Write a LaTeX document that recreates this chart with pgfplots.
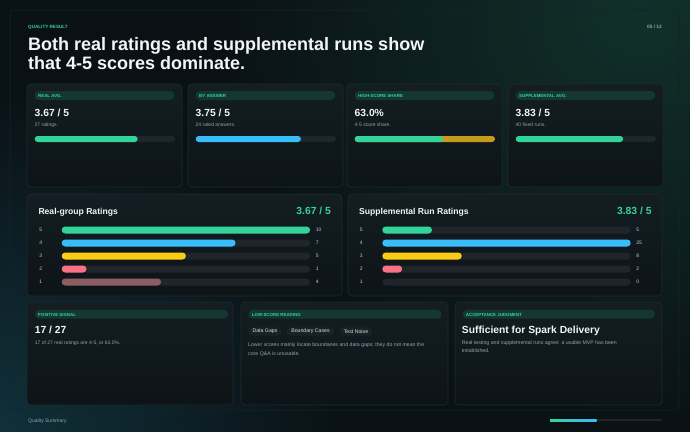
\documentclass[border=0pt]{standalone}
\usepackage{fontspec}
\setmainfont{Liberation Sans}
\usepackage{pgfplots}
\pgfplotsset{compat=1.18}
\definecolor{bg}{HTML}{0A1115}
\definecolor{glowtr}{HTML}{11302A}
\definecolor{glowbl}{HTML}{10303A}
\definecolor{frame}{HTML}{15242A}
\definecolor{cardtop}{HTML}{131D22}
\definecolor{cardbot}{HTML}{0D1418}
\definecolor{cardline}{HTML}{1F2A2E}
\definecolor{pill}{HTML}{143830}
\definecolor{cgreen}{HTML}{34D399}
\definecolor{cblue}{HTML}{38BDF8}
\definecolor{cyellow}{HTML}{FACC15}
\definecolor{cpink}{HTML}{F87185}
\definecolor{cmauve}{HTML}{8C5C63}
\definecolor{cgold}{HTML}{C59B1B}
\definecolor{track}{HTML}{1F252A}
\definecolor{txt}{HTML}{F3F5F6}
\definecolor{subgrey}{HTML}{97A2A8}
\definecolor{rowlbl}{HTML}{C5CCD0}
\definecolor{chip}{HTML}{1B2227}
\definecolor{chiptxt}{HTML}{D5DBDE}
\newcommand\fs[1]{\fontsize{#1}{#1}\selectfont}
\pgfplotsset{
 kpibar/.style={scale only axis, width=140.3pt, height=6pt, xmin=0, ymin=0.5, ymax=1.5, hide axis, clip=false, anchor=south west,
   every axis plot/.append style={xbar, bar width=6pt, bar shift=0pt, draw=none, rounded corners=3pt}},
 ratebar/.style={scale only axis, width=248.4pt, height=65pt, xmin=0, ymin=0.5, ymax=5.5,
   axis line style={draw=none}, major tick length=0pt, xtick=\empty, ytick={1,2,3,4,5}, yticklabels={1,2,3,4,5},
   yticklabel style={font=\fs{5}, text=rowlbl, anchor=center, xshift=-21pt},
   clip=false, anchor=south west,
   every axis plot/.append style={xbar, bar width=7pt, bar shift=0pt, draw=none, rounded corners=3.5pt},
   nodes near coords style={font=\fs{5}, text=rowlbl, anchor=west, inner sep=0pt, xshift=5.5pt}},
}
\newcommand\card[4]{\shade[rounded corners=4pt, top color=cardtop, bottom color=cardbot] (#1,#2) rectangle (#3,#4);
 \draw[rounded corners=4pt, cardline, line width=0.6pt] (#1,#2) rectangle (#3,#4);}
\newcommand\pilltext[5]{\fill[pill, rounded corners=4.5pt] (#1,#2) rectangle (#3,#2+9);
 \node[anchor=base west, inner sep=0pt, font=\fs{4.4}\bfseries, text=cgreen] at (#4,#2+6.3) {#5};}
\newcommand\kpi[4]{\card{#1}{84}{#1+155}{187}
 \pilltext{#1+7.5}{91}{#1+147.5}{#1+11}{#2}
 \node[anchor=base west, inner sep=0pt, font=\fs{10.3}\bfseries, text=txt] at (#1+7.5,116) {#3};
 \node[anchor=base west, inner sep=0pt, font=\fs{5}, text=subgrey] at (#1+7.5,126.5) {#4};}
\begin{document}
\begin{tikzpicture}[x=1pt,y=-1pt]
\useasboundingbox (0,0) rectangle (690,431);
\fill[bg] (-3,-3) rectangle (693,434);
\begin{scope}
\clip (-3,-3) rectangle (693,434);
\shade[inner color=glowtr, outer color=bg] (640,10) circle (420);
\shade[inner color=glowbl, outer color=bg] (0,431) circle (340);
\end{scope}
\draw[frame, line width=0.6pt, rounded corners=3pt] (10,10) rectangle (679,410);
% header
\node[anchor=base west, inner sep=0pt, font=\fs{4.6}\bfseries, text=cgreen] at (28,28) {QUALITY RESULT};
\node[anchor=base east, inner sep=0pt, font=\fs{4.8}\bfseries, text=subgrey] at (662,28) {05 / 12};
\node[anchor=base west, inner sep=0pt, font=\fs{18}\bfseries, text=txt] at (28,50) {Both real ratings and supplemental runs show};
\node[anchor=base west, inner sep=0pt, font=\fs{18}\bfseries, text=txt] at (28,69) {that 4-5 scores dominate.};
% KPI cards
\kpi{27}{REAL AVG.}{3.67 / 5}{27 ratings.}
\kpi{188}{BY ANSWER}{3.75 / 5}{24 rated answers.}
\kpi{347}{HIGH-SCORE SHARE}{63.0\%}{4-5 score share.}
\kpi{508}{SUPPLEMENTAL AVG.}{3.83 / 5}{40 fixed runs.}
\coordinate (k1) at (34.7,142);
\coordinate (k2) at (195.7,142);
\coordinate (k3) at (354.7,142);
\coordinate (k4) at (515.7,142);
\begin{axis}[kpibar, at={(k1)}, xmax=5]
\addplot[fill=track] coordinates {(5,1)};
\addplot[fill=cgreen] coordinates {(3.67,1)};
\end{axis}
\begin{axis}[kpibar, at={(k2)}, xmax=5]
\addplot[fill=track] coordinates {(5,1)};
\addplot[fill=cblue] coordinates {(3.75,1)};
\end{axis}
\begin{axis}[kpibar, at={(k3)}, xmax=100]
\addplot[fill=cgold] coordinates {(100,1)};
\addplot[fill=cgreen] coordinates {(63.0,1)};
\end{axis}
\begin{axis}[kpibar, at={(k4)}, xmax=5]
\addplot[fill=track] coordinates {(5,1)};
\addplot[fill=cgreen] coordinates {(3.83,1)};
\end{axis}
% rating panels
\card{27}{194}{342}{296}
\card{348}{194}{662}{296}
\node[anchor=base west, inner sep=0pt, font=\fs{8.6}\bfseries, text=txt] at (38.3,214) {Real-group Ratings};
\node[anchor=base east, inner sep=0pt, font=\fs{10.3}\bfseries, text=cgreen] at (331,214.5) {3.67 / 5};
\node[anchor=base west, inner sep=0pt, font=\fs{8.6}\bfseries, text=txt] at (359,214) {Supplemental Run Ratings};
\node[anchor=base east, inner sep=0pt, font=\fs{10.3}\bfseries, text=cgreen] at (651.7,214.5) {3.83 / 5};
\coordinate (p1) at (61.7,288.5);
\coordinate (p2) at (382.3,288.5);
\begin{axis}[ratebar, at={(p1)}, xmax=10]
\addplot[fill=track, nodes near coords, point meta=explicit symbolic] coordinates {(10,5) [10] (10,4) [7] (10,3) [5] (10,2) [1] (10,1) [4]};
\addplot[fill=cgreen] coordinates {(10,5)};
\addplot[fill=cblue] coordinates {(7,4)};
\addplot[fill=cyellow] coordinates {(5,3)};
\addplot[fill=cpink] coordinates {(1,2)};
\addplot[fill=cmauve] coordinates {(4,1)};
\end{axis}
\begin{axis}[ratebar, at={(p2)}, xmax=25]
\addplot[fill=track, nodes near coords, point meta=explicit symbolic] coordinates {(25,5) [5] (25,4) [25] (25,3) [8] (25,2) [2] (25,1) [0]};
\addplot[fill=cgreen] coordinates {(5,5)};
\addplot[fill=cblue] coordinates {(25,4)};
\addplot[fill=cyellow] coordinates {(8,3)};
\addplot[fill=cpink] coordinates {(2,2)};
\end{axis}
% bottom cards
\card{27}{302}{233}{405}
\card{241}{302}{448}{405}
\card{455}{302}{662}{405}
\pilltext{35}{309.7}{228.3}{37.7}{POSITIVE SIGNAL}
\pilltext{248.3}{309.7}{441.7}{251.7}{LOW-SCORE READING}
\pilltext{462.7}{309.7}{655}{465.7}{ACCEPTANCE JUDGMENT}
\node[anchor=base west, inner sep=0pt, font=\fs{10.3}\bfseries, text=txt] at (34.7,333) {17 / 27};
\node[anchor=base west, inner sep=0pt, font=\fs{5}, text=subgrey] at (34.7,344) {17 of 27 real ratings are 4-5, or 63.0\%.};
\fill[chip, rounded corners=3pt] (249,327.3) rectangle (281,335.5);
\fill[chip, rounded corners=3pt] (287,327.3) rectangle (334,335.5);
\fill[chip, rounded corners=3pt] (340,327.3) rectangle (372,335.5);
\node[inner sep=0pt, font=\fs{5.2}, text=chiptxt] at (265,331.4) {Data Gaps};
\node[inner sep=0pt, font=\fs{5.2}, text=chiptxt] at (310.5,331.4) {Boundary Cases};
\node[inner sep=0pt, font=\fs{5.2}, text=chiptxt] at (356,331.4) {Test Noise};
\node[anchor=base west, inner sep=0pt, font=\fs{5.2}, text=subgrey] at (248,346.7) {Lower scores mainly locate boundaries and data gaps; they do not mean the};
\node[anchor=base west, inner sep=0pt, font=\fs{5.2}, text=subgrey] at (248,355) {core Q\&A is unusable.};
\node[anchor=base west, inner sep=0pt, font=\fs{10.3}\bfseries, text=txt] at (461.7,333.3) {Sufficient for Spark Delivery};
\node[anchor=base west, inner sep=0pt, font=\fs{5.2}, text=subgrey] at (461.7,344) {Real testing and supplemental runs agree: a usable MVP has been};
\node[anchor=base west, inner sep=0pt, font=\fs{5.2}, text=subgrey] at (461.7,352.5) {established.};
% footer
\node[anchor=base west, inner sep=0pt, font=\fs{5}, text=subgrey] at (28,422) {Quality Summary};
\coordinate (f1) at (550,421);
\begin{axis}[scale only axis, width=112pt, height=2pt, xmin=0, xmax=12, ymin=0.5, ymax=1.5, hide axis, clip=false, anchor=south west, at={(f1)},
   every axis plot/.append style={xbar, bar width=2pt, bar shift=0pt, draw=none}]
\addplot[fill=track] coordinates {(12,1)};
\addplot[left color=cgreen, right color=cblue] coordinates {(5,1)};
\end{axis}
\end{tikzpicture}
\end{document}
